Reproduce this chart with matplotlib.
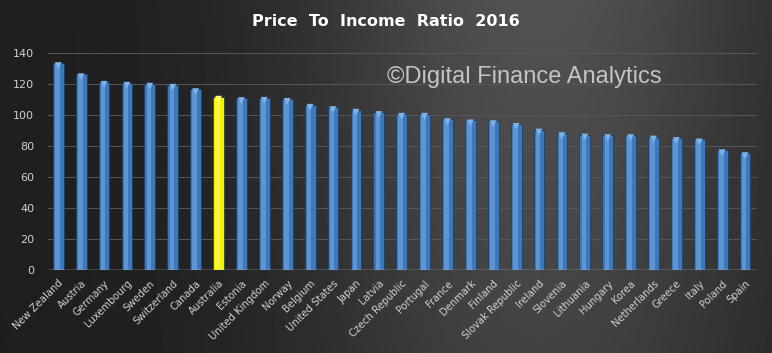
import numpy as np
import matplotlib.pyplot as plt

countries = ['New Zealand', 'Austria', 'Germany', 'Luxembourg', 'Sweden', 'Switzerland',
             'Canada', 'Australia', 'Estonia', 'United Kingdom', 'Norway', 'Belgium',
             'United States', 'Japan', 'Latvia', 'Czech Republic', 'Portugal', 'France',
             'Denmark', 'Finland', 'Slovak Republic', 'Ireland', 'Slovenia', 'Lithuania',
             'Hungary', 'Korea', 'Netherlands', 'Greece', 'Italy', 'Poland', 'Spain']
ratio = [133.5, 126.3, 121.4, 120.8, 120.2, 119.5, 116.7, 111.8, 110.9, 111.1, 110.4,
         106.6, 105.1, 103.4, 101.9, 100.8, 100.8, 97.3, 96.5, 96.0, 94.3, 90.6, 88.3,
         87.4, 87.0, 87.0, 86.1, 85.1, 84.2, 77.3, 75.4]
highlight = 'Australia'
y_ticks = [0, 20, 40, 60, 80, 100, 120, 140]

fig = plt.figure(figsize=(7.72, 3.53), dpi=100)

# dark gradient background
bg = fig.add_axes([0, 0, 1, 1])
gx = np.linspace(0, 1, 400)
gy = np.linspace(0, 1, 200)
X, Y = np.meshgrid(gx, gy)
shade = 0.12 + 0.2 * np.exp(-((X - 0.7) ** 2) / 0.1) * (0.7 + 0.3 * Y)
bg.imshow(shade, cmap='gray', vmin=0, vmax=1, aspect='auto', extent=[0, 1, 0, 1], origin='lower')
bg.set_axis_off()

ax = fig.add_axes([48 / 772, 83 / 353, 709 / 772, 217 / 353])
ax.patch.set_alpha(0)

x = np.arange(len(countries))
cols = ['#f2f200' if c == highlight else '#3c78bc' for c in countries]
light = ['#ffff70' if c == highlight else '#80b2e6' for c in countries]
ax.bar(x, ratio, width=0.47, color=cols, edgecolor='#1c3a60', linewidth=0.5, zorder=3)
ax.bar(x - 0.04, ratio, width=0.2, color=light, alpha=0.5, linewidth=0, zorder=4)
ax.scatter(x, np.array(ratio) - 1.6, marker='v', s=24, c=light, linewidths=0, zorder=5)

ax.set_ylim(0, 140)
ax.set_xlim(-0.45, len(countries) - 0.48)
ax.set_yticks(y_ticks)
ax.set_yticklabels([str(t) for t in y_ticks], color='#d0d0d0', fontsize=8)
ax.set_xticks(x)
ax.set_xticklabels(countries, rotation=45, ha='right', rotation_mode='anchor',
                   color='#d0d0d0', fontsize=7.2)
ax.tick_params(axis='y', length=0, pad=10)
ax.tick_params(axis='x', length=0, pad=6)
for t in y_ticks[1:]:
    ax.axhline(t, color='#575757', linewidth=0.7, zorder=1)
ax.axhline(0, color='#c8c8c8', linewidth=1.0, zorder=6)
for s in ax.spines.values():
    s.set_visible(False)

fig.text(0.5, 0.94, 'Price  To  Income  Ratio  2016', ha='center', va='center',
         color='white', fontsize=11.5, fontweight='bold')
fig.text(0.501, 0.782, '\u00a9Digital Finance Analytics', ha='left', va='center',
         color='#c4c4c4', fontsize=17, family='Liberation Sans')

fig.savefig('out.png', dpi=100)
